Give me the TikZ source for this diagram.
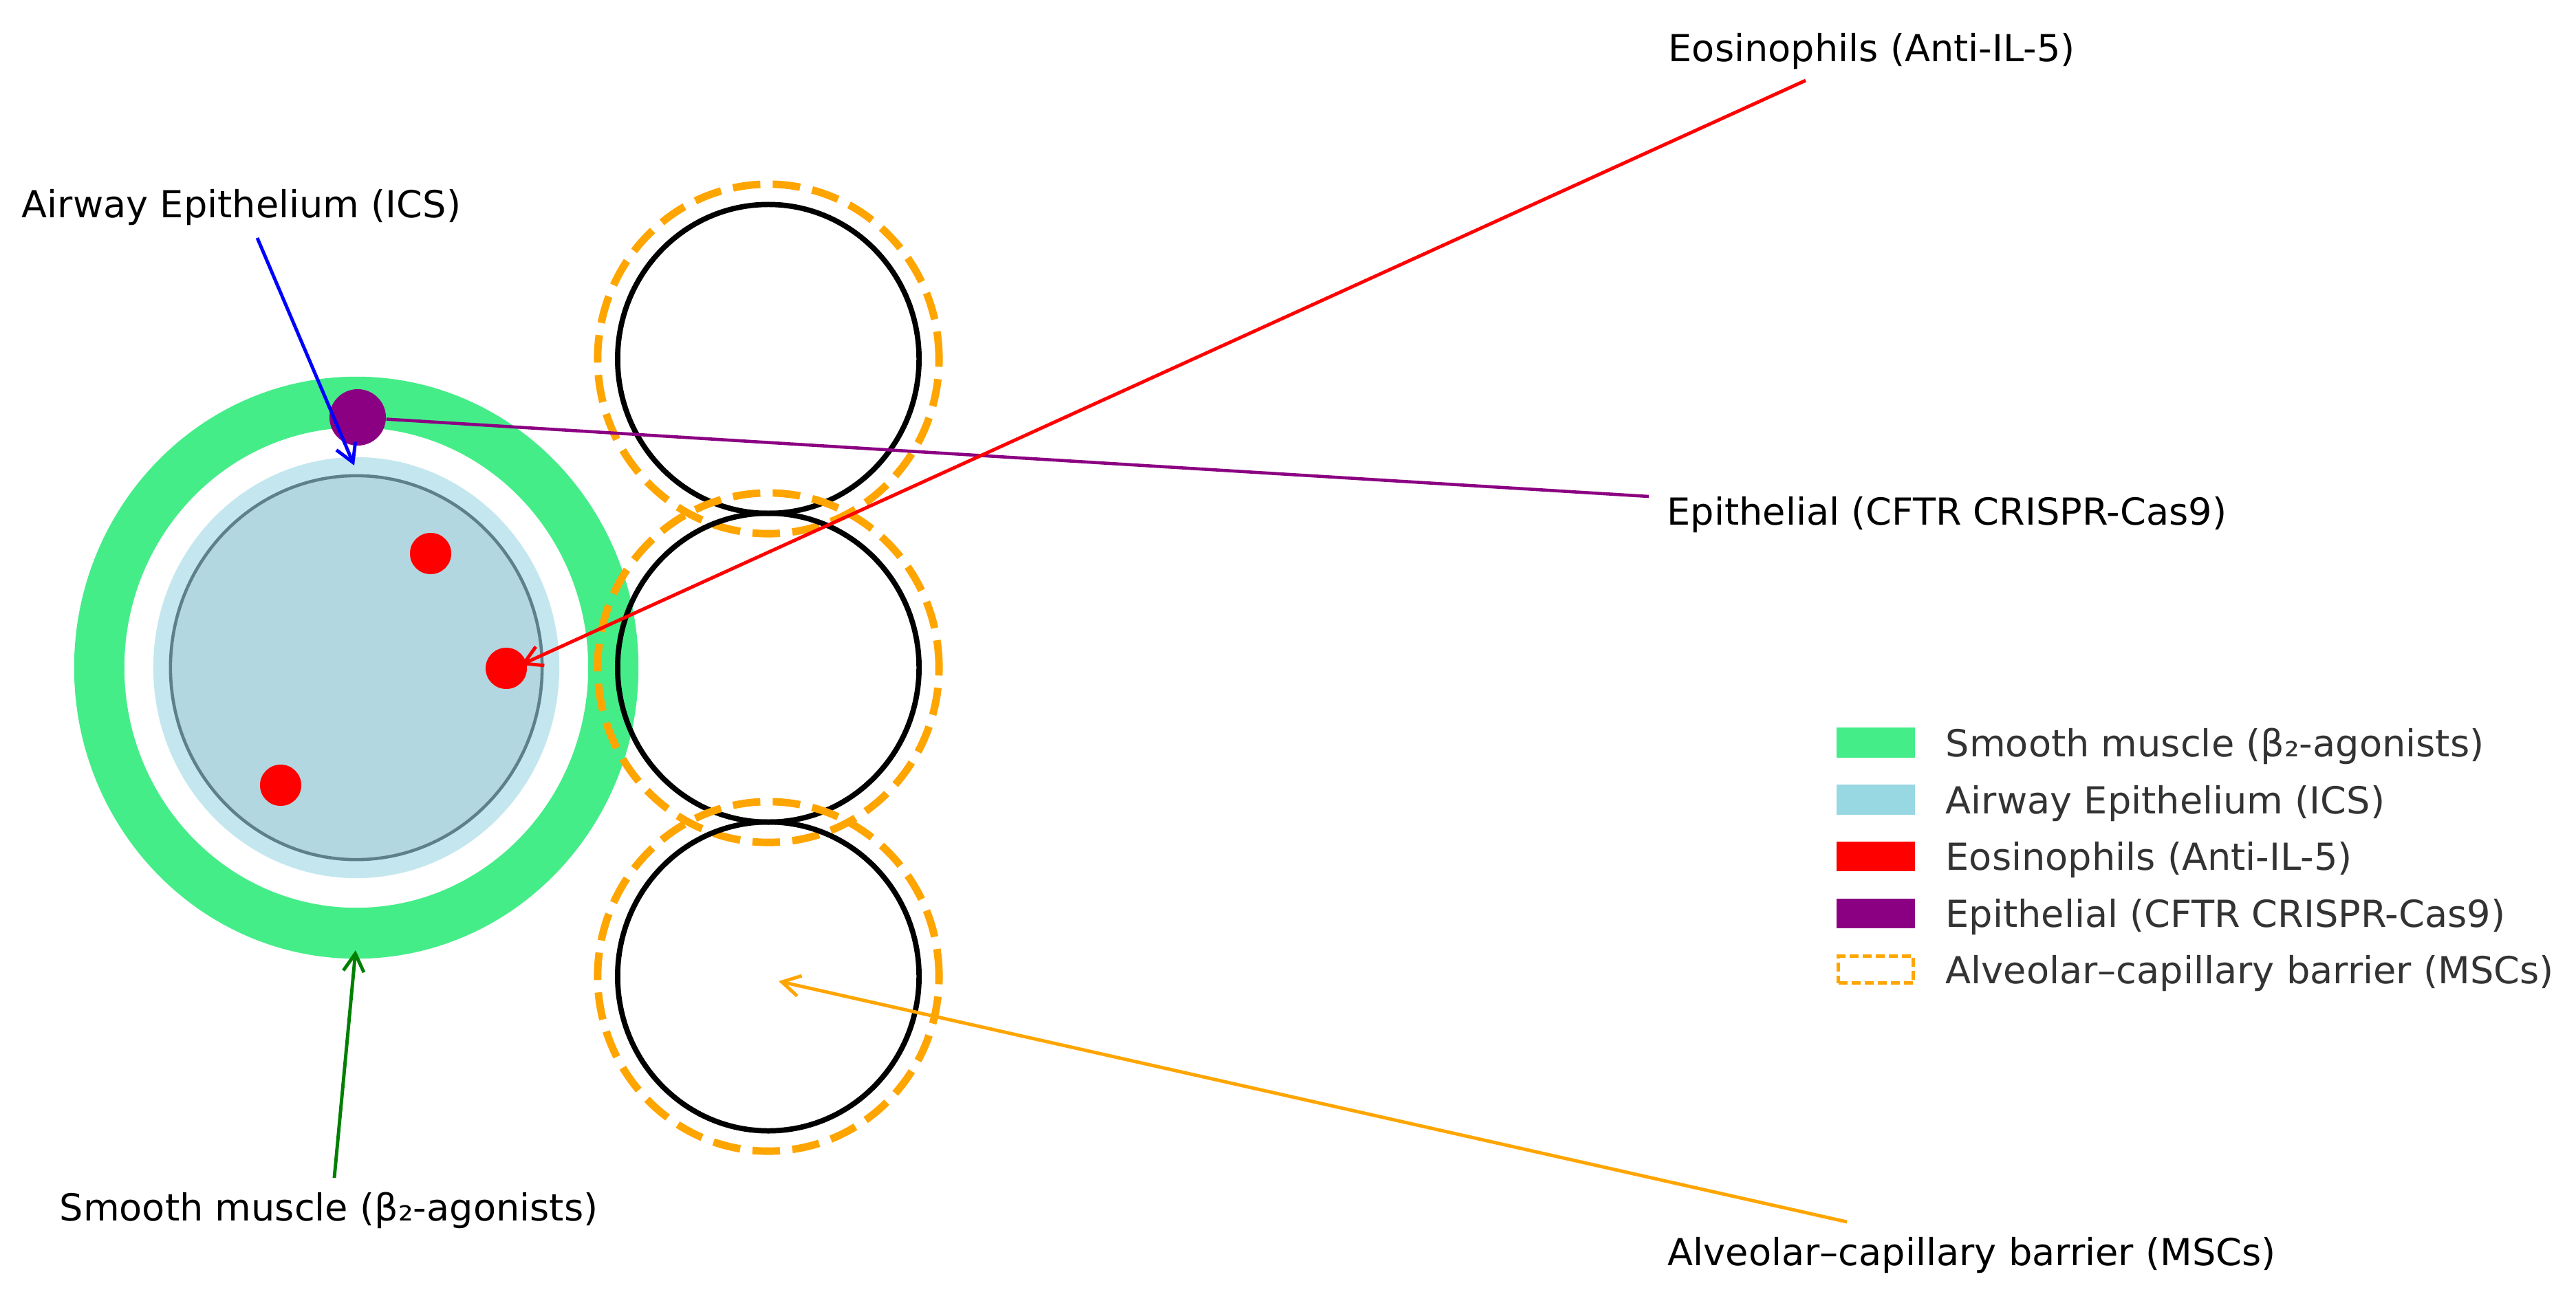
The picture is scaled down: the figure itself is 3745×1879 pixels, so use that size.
\documentclass[tikz,border=0pt]{standalone}
\usepackage{fontspec}
\setmainfont{DejaVu Sans}
\usetikzlibrary{arrows.meta,shapes.geometric}
\definecolor{muscle}{RGB}{69,237,137}
\definecolor{epiring}{RGB}{196,231,239}
\definecolor{lumen}{RGB}{179,215,224}
\definecolor{lumenedge}{RGB}{94,128,138}
\definecolor{legblue}{RGB}{152,216,227}
\definecolor{cftr}{RGB}{139,0,130}
\definecolor{barrier}{RGB}{255,165,0}
\definecolor{eos}{RGB}{255,0,0}
\definecolor{arrowgreen}{RGB}{0,128,0}
\begin{document}
\begin{tikzpicture}[x=0.01cm,y=-0.01cm,
  lbl/.style={anchor=base west,inner sep=0pt,font=\fontsize{15.4}{18}\selectfont},
  leg/.style={lbl,text=black!80},
  ann/.style={line width=1.4pt,-{Straight Barb[length=0.26cm,width=0.30cm,line width=1.4pt]}},
  plain/.style={line width=1.3pt},
  eosdot/.style={circle,fill=eos,inner sep=0pt,minimum size=0.6cm},
  alvwall/.style={ellipse,draw=black,line width=2.2pt,inner sep=0pt,minimum width=4.38cm,minimum height=4.49cm},
  alvbar/.style={ellipse,draw=barrier,line width=3.1pt,dash pattern=on 0.40cm off 0.18cm,inner sep=0pt,minimum width=4.96cm,minimum height=5.08cm},
  swatch/.style={rectangle,inner sep=0pt,minimum width=1.14cm,minimum height=0.43cm}
]
\useasboundingbox (0,0) rectangle (3745,1879);
\fill[white] (0,0) rectangle (3745,1879);

% airway
\coordinate (aw) at (518,971);
\fill[muscle,even odd rule] (aw) ellipse [x radius=4.10cm,y radius=4.23cm]
                            (aw) ellipse [x radius=3.37cm,y radius=3.49cm];
\node[ellipse,fill=epiring,inner sep=0pt,minimum width=5.90cm,minimum height=6.12cm] (epi) at (aw) {};
\node[ellipse,fill=lumen,draw=lumenedge,line width=1.3pt,inner sep=0pt,minimum width=5.40cm,minimum height=5.58cm] (lum) at (aw) {};

% eosinophils
\node[eosdot] (eos1) at (626,805) {};
\node[eosdot] (eos2) at (736,972) {};
\node[eosdot] (eos3) at (408,1142) {};

% CFTR epithelial cell
\node[circle,fill=cftr,inner sep=0pt,minimum size=0.82cm] (cftrdot) at (520,607) {};

% alveoli
\node[alvwall] (alvA) at (1117,522) {};
\node[alvbar]  (barA) at (1117,522) {};
\node[alvwall] (alvB) at (1117,971) {};
\node[alvbar]  (barB) at (1117,971) {};
\node[alvwall] (alvC) at (1117,1420) {};
\node[alvbar]  (barC) at (1117,1420) {};

% labels
\node[lbl] (tEos) at (2425,90) {Eosinophils (Anti-IL-5)};
\node[lbl] (tAir) at (31,317) {Airway Epithelium (ICS)};
\node[lbl] (tEpi) at (2423,763) {Epithelial (CFTR CRISPR-Cas9)};
\node[lbl] (tSm)  at (86,1775) {Smooth muscle (β₂-agonists)};
\node[lbl] (tAlv) at (2424,1840) {Alveolar–capillary barrier (MSCs)};

% connectors
\coordinate (sB) at (374,346);
\coordinate (eB) at (515,677);
\coordinate (sR) at (2625,117);
\coordinate (eR) at (757,967);
\coordinate (sP) at (2397,722);
\coordinate (sG) at (486,1713);
\coordinate (eG) at (517,1382);
\coordinate (sO) at (2685,1777);
\coordinate (eO) at (1132,1427);
\draw[plain,cftr] (sP) -- (cftrdot);
\draw[ann,eos] (sR) -- (eR);
\draw[ann,blue] (sB) -- (eB);
\draw[ann,arrowgreen] (sG) -- (eG);
\draw[ann,barrier] (sO) -- (eO);

% legend
\node[swatch,fill=muscle] (lg1) at (2727,1080) {};
\node[swatch,fill=legblue] (lg2) at (2727,1163) {};
\node[swatch,fill=eos] (lg3) at (2727,1245) {};
\node[swatch,fill=cftr] (lg4) at (2727,1328) {};
\node[swatch,draw=barrier,line width=1.6pt,dash pattern=on 0.13cm off 0.06cm,minimum width=1.09cm,minimum height=0.39cm] (lg5) at (2727,1410) {};
\node[leg] (lt1) at (2828,1100) {Smooth muscle (β₂-agonists)};
\node[leg] (lt2) at (2828,1183) {Airway Epithelium (ICS)};
\node[leg] (lt3) at (2828,1265) {Eosinophils (Anti-IL-5)};
\node[leg] (lt4) at (2828,1348) {Epithelial (CFTR CRISPR-Cas9)};
\node[leg] (lt5) at (2828,1430) {Alveolar–capillary barrier (MSCs)};
\end{tikzpicture}
\end{document}
